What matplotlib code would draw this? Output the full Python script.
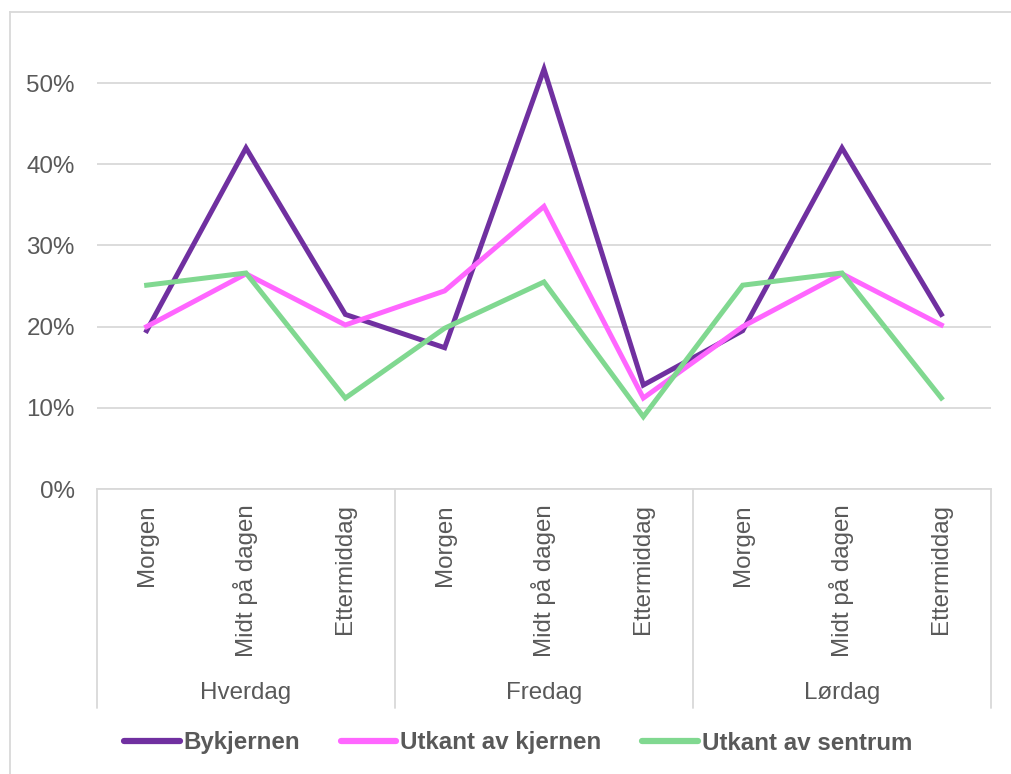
import matplotlib.pyplot as plt
from matplotlib.lines import Line2D

plt.rcParams['font.family'] = ['Liberation Sans', 'DejaVu Sans']

# data
groups = ["Hverdag", "Fredag", "Lørdag"]
periods = ["Morgen", "Midt på dagen", "Ettermiddag"]
bykjernen = [0.195, 0.420, 0.215, 0.174, 0.517, 0.128, 0.195, 0.420, 0.215]
utkant_kjernen = [0.200, 0.265, 0.202, 0.244, 0.348, 0.112, 0.200, 0.265, 0.202]
utkant_sentrum = [0.251, 0.266, 0.112, 0.198, 0.255, 0.089, 0.251, 0.266, 0.112]

series = [("Bykjernen", bykjernen, "#7030A0"),
          ("Utkant av kjernen", utkant_kjernen, "#FF66FF"),
          ("Utkant av sentrum", utkant_sentrum, "#80D890")]

W, H = 1011, 774
fig = plt.figure(figsize=(W / 100, H / 100), dpi=100)
txt = "#595959"
grid = "#D9D9D9"
fs = 17.4

# plot area in pixel coords
x0, x1, y0, y1 = 97, 991, 489, 20
ax = fig.add_axes([x0 / W, 1 - y0 / H, (x1 - x0) / W, (y0 - y1) / H])

n = len(groups) * len(periods)
xs = list(range(n))
for name, vals, col in series:
    ax.plot(xs, vals, color=col, lw=3.6, solid_joinstyle="miter", label=name)

ax.set_xlim(-0.5, n - 0.5)
ax.set_ylim(0, (y0 - y1) / 812)
ax.set_yticks([0, 0.1, 0.2, 0.3, 0.4, 0.5])
ax.set_yticklabels(["0%", "10%", "20%", "30%", "40%", "50%"])
ax.tick_params(axis="y", length=0, pad=16, labelsize=fs, labelcolor=txt)
ax.set_xticks([])
ax.grid(axis="y", color=grid, lw=1.3)
ax.set_axisbelow(True)
for s in ["top", "right", "left"]:
    ax.spines[s].set_visible(False)
ax.spines["bottom"].set_color(grid)
ax.spines["bottom"].set_linewidth(1.3)

# category labels (rotated) and group labels below the axis
for i in xs:
    ax.annotate(periods[i % 3], xy=(i, 0), xycoords="data",
                xytext=(0, -15), textcoords="offset pixels",
                rotation=90, ha="center", va="top", fontsize=fs, color=txt,
                annotation_clip=False)
for g, name in enumerate(groups):
    ax.annotate(name, xy=(g * 3 + 1, 0), xycoords="data",
                xytext=(0, -204), textcoords="offset pixels",
                ha="center", va="center", fontsize=fs, color=txt,
                annotation_clip=False)
for b in [-0.5, 2.5, 5.5, 8.5]:
    ax.annotate("", xy=(b, 0), xycoords="data", xytext=(0, -219),
                textcoords="offset pixels",
                arrowprops=dict(arrowstyle="-", color=grid, lw=1.3,
                                shrinkA=0, shrinkB=0),
                annotation_clip=False)

handles = [Line2D([], [], color=c, lw=4.5, solid_capstyle="round") for _, _, c in series]
leg = fig.legend(handles, [s[0] for s in series], loc="center",
                 bbox_to_anchor=(518 / W, 1 - 743 / H), ncol=3, frameon=False,
                 handlelength=2.3, handletextpad=0.15, columnspacing=1.7,
                 prop={"size": fs, "weight": "bold"})
for t in leg.get_texts():
    t.set_color(txt)

# outer chart border (top and left edges)
fig.add_artist(Line2D([10 / W, 10 / W], [0, 1 - 12 / H], color=grid, lw=1.3,
                      transform=fig.transFigure))
fig.add_artist(Line2D([10 / W, 1], [1 - 12 / H, 1 - 12 / H], color=grid, lw=1.3,
                      transform=fig.transFigure))

fig.savefig("out.png", dpi=100)
